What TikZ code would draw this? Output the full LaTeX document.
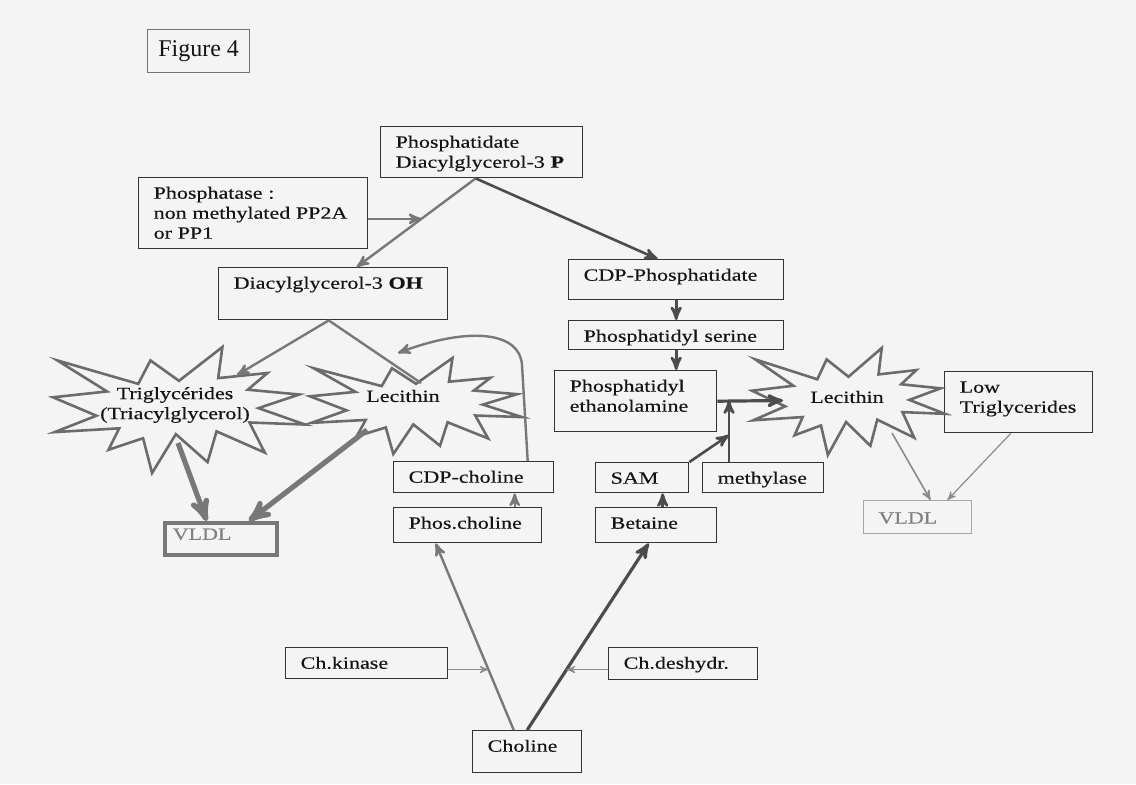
\documentclass[tikz,border=0pt]{standalone}
\usepackage{fontspec}
\setmainfont{Liberation Serif}[FakeStretch=1.28, FakeBold=0.35]
\newfontfamily\figfont{Liberation Serif}
\usetikzlibrary{arrows}
\definecolor{paper}{gray}{0.955}
\definecolor{ink}{gray}{0.08}
\definecolor{boxline}{gray}{0.2}
\definecolor{linegray}{gray}{0.47}
\definecolor{darkline}{gray}{0.3}
\hyphenpenalty=10000
\exhyphenpenalty=10000

\begin{document}
\begin{tikzpicture}[>=stealth', x=0.5pt, y=-0.5pt, text=ink,
        font=\fontsize{8.6pt}{10pt}\selectfont,
        box/.style={draw=boxline, line width=0.7pt, anchor=north west, align=left,
                    inner xsep=7.5pt, inner ysep=0pt, text height=10.5pt},
        figbox/.style={draw=black!55, line width=0.6pt, anchor=north west, inner sep=0pt,
                    minimum width=51pt, minimum height=21.5pt,
                    font=\figfont\fontsize{12pt}{14pt}\selectfont},
        vldlbox/.style={box, draw=linegray, line width=1.75pt, text=black!50,
                    inner xsep=4pt, text height=8.5pt},
        vldlthin/.style={box, draw=black!35, line width=0.5pt, text=black!50,
                    text height=11.5pt},
        startext/.style={align=center, inner sep=0pt},
        flow/.style={->, draw=linegray, line width=1.2pt},
        darkflow/.style={->, draw=darkline, line width=1.3pt},
        hairflow/.style={->, draw=black!45, line width=0.6pt},
        bigflow/.style={->, draw=linegray, line width=2.6pt},
        burstline/.style={draw=black!58, line width=1.3pt},
        burst/.pic={\draw[burstline] (108,58) -- (145.2,0) -- (141.6,53.3) -- (183.8,44.6)
                    -- (167,73.2) -- (211,81.4) -- (176.1,104.8) -- (216,132.9)
                    -- (168.4,129.4) -- (181.5,181) -- (140.2,144.6) -- (132.5,197.4)
                    -- (105.3,149.4) -- (84.9,216) -- (77.2,156.3) -- (47.6,176.2)
                    -- (56.7,139.4) -- (1.4,145.9) -- (37.2,117.8) -- (0,86.2)
                    -- (46.3,76.2) -- (3.7,23) -- (73.1,63.2) -- (83.5,23) -- cycle;}]

    \fill[paper] (0,0) rectangle (1136,784);
    \useasboundingbox (0,0) rectangle (1136,784);

    \node[figbox] (fig) at (147,29) {Figure 4};

    \node[box, text width=86pt, text depth=15pt] (pdate) at (380,126) {Phosphatidate\\Diacylglycerol-3 \textbf{P}};
    \node[box, text width=99.5pt, text depth=25pt] (pase) at (138,177) {Phosphatase :\\non methylated PP2A\\or PP1};
    \node[box, text width=99.5pt, text depth=15.5pt] (dag) at (218,267) {Diacylglycerol-3 \textbf{OH}};
    \node[box, text width=92.5pt, text depth=9.5pt] (cdpp) at (568,259) {CDP-Phosphatidate};
    \node[box, text width=92.5pt, text depth=4pt] (pser) at (568,320) {Phosphatidyl serine};
    \node[box, text width=66pt, text depth=20pt] (peth) at (554,370) {Phosphatidyl\\ethanolamine};
    \node[box, text width=31.5pt, text depth=4.5pt] (sam) at (595,462) {SAM};
    \node[box, text width=45.5pt, text depth=4.5pt] (methyl) at (702,462) {methylase};
    \node[box, text width=45.5pt, text depth=7pt] (betaine) at (595,507) {Betaine};
    \node[box, text width=65pt, text depth=5pt] (cdpch) at (393,461) {CDP-choline};
    \node[box, text width=59pt, text depth=7pt] (phosch) at (393,507) {Phos.choline};
    \node[box, text width=39.5pt, text depth=10.5pt] (choline) at (472,730) {Choline};
    \node[box, text width=66pt, text depth=5pt] (chkin) at (285,647) {Ch.kinase};
    \node[box, text width=59.5pt, text depth=5.5pt] (chdes) at (608,647) {Ch.deshydr.};
    \node[box, text width=59pt, text depth=20pt] (lowtg) at (944,371) {Low\\Triglycerides};
    \node[vldlbox, text width=48pt, text depth=7.5pt] (vldlL) at (163,521) {VLDL};
    \node[vldlthin, text width=39pt, text depth=5pt] (vldlR) at (863,500) {VLDL};

    \pic[xscale=252/216, yscale=126/216] at (53,347) {burst};
    \pic[xscale=212/216, yscale=96/216] at (310,358) {burst};
    \pic[xscale=193/216, yscale=107/216] at (752,348) {burst};

    \node[startext] (tg) at (175,405) {Triglycérides\\(Triacylglycerol)};
    \node[startext] (lecL) at (403,396) {Lecithin};
    \node[startext] (lecR) at (847,397) {Lecithin};

    \coordinate (tgin) at (237,375);
    \coordinate (tgout) at (178,443);
    \coordinate (lecLin) at (421,383);
    \coordinate (lecLtop) at (398,353);
    \coordinate (lecLout) at (367,430);
    \coordinate (lecRin) at (783,400.5);
    \coordinate (lecRout) at (892,433);
    \coordinate (mj) at (729,400.5);
    \coordinate (sj) at (729,435);

    \draw[flow] ([xshift=-3pt]pdate.south) -- coordinate[pos=0.456] (pj) ([xshift=11.75pt]dag.north);
    \draw[flow] (pase.east |- pj) -- (pj);
    \draw[darkflow] ([xshift=-3pt]pdate.south) -- ([xshift=-9.25pt]cdpp.north);
    \draw[darkflow] (cdpp.south) -- (pser.north);
    \draw[darkflow] (pser.south) -- (pser.south |- peth.north);
    \draw[darkflow, line width=1.6pt] (peth.east) -- (lecRin);
    \draw[darkflow] (methyl.north -| mj) -- (mj);
    \draw[darkflow] (sam.north east) -- (sj);
    \draw[darkflow] ([xshift=3.25pt]betaine.north) -- ([xshift=3.25pt]betaine.north |- sam.south);
    \draw[flow] ([xshift=23.5pt]phosch.north) -- ([xshift=23.5pt]phosch.north |- cdpch.south);

    \path ([xshift=-2.25pt]dag.south) edge[flow] (tgin)
                                     edge[flow, -] (lecLin);
    \draw[flow] ([xshift=27pt]cdpch.north) -- (522,365) .. controls (520,332) and (470,326) .. (lecLtop);

    \draw[bigflow] (tgout) -- ([xshift=-7pt]vldlL.north);
    \draw[bigflow] (lecLout) -- ([xshift=14pt]vldlL.north);
    \draw[hairflow, line width=0.8pt] (lecRout) -- ([xshift=6.5pt]vldlR.north);
    \draw[hairflow] ([xshift=-4pt]lowtg.south) -- ([xshift=15pt]vldlR.north);

    \draw[flow] ([xshift=-6.75pt]choline.north) -- coordinate[pos=0.324] (kj) ([xshift=-16pt]phosch.south);
    \draw[darkflow, line width=1.6pt] (choline.north) -- coordinate[pos=0.324] (dj) ([xshift=-3.75pt]betaine.south);
    \draw[hairflow] (chkin.east |- kj) -- (kj);
    \draw[hairflow] (chdes.west |- dj) -- (dj);
\end{tikzpicture}
\end{document}
